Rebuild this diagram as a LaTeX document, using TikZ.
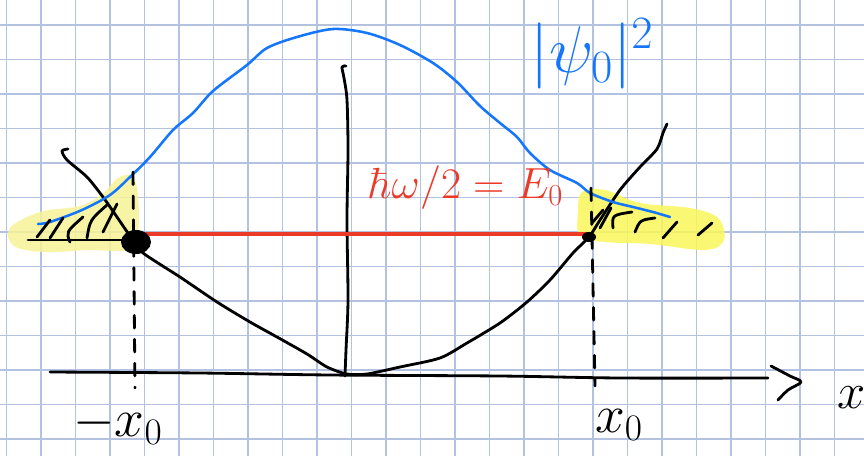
\RequirePackage{fix-cm}
\documentclass[tikz,border=0pt]{standalone}
\usepackage{amsmath}
\usepackage{tikz}
\usetikzlibrary{positioning,calc}
\definecolor{gridblue}{RGB}{178,194,224}
\definecolor{penblue}{RGB}{20,118,250}
\definecolor{penred}{RGB}{236,58,40}
\definecolor{markpale}{RGB}{246,244,150}
\definecolor{markbright}{RGB}{250,246,90}

\begin{document}
\begin{tikzpicture}[x=0.025cm, y=-0.025cm,
        paper/.style={draw=gridblue, line width=0.9pt},
        pen/.style={draw=black, line width=2pt, line cap=round, line join=round},
        wave/.style={draw=penblue, line width=1.8pt, line cap=round},
        level/.style={draw=penred, line width=2.4pt, line cap=round},
        dashpen/.style={pen, dash pattern=on 9pt off 8pt},
        bigtext/.style={font=\fontsize{38}{42}\selectfont, inner sep=0pt}]
    \useasboundingbox (0,0) rectangle (864,456);
    \fill[white] (0,0) rectangle (864,456);
    % squared paper
    \foreach \gx in {6.5,41,...,864} \draw[paper] (\gx,0) -- (\gx,456);
    \foreach \gy in {25,59.5,...,456} \draw[paper] (0,\gy) -- (864,\gy);
    % highlighter marks
    \fill[markpale, opacity=0.85] plot[smooth cycle, tension=0.6] coordinates {
        (10,228) (40,212) (80,206) (102,194) (118,178) (132,176) (138,195)
        (138,232) (128,250) (90,250) (45,252) (14,246)};
    \fill[markbright, opacity=0.85] plot[smooth cycle, tension=0.6] coordinates {
        (578,212) (582,192) (605,190) (640,203) (690,208) (718,218)
        (724,240) (705,250) (650,244) (605,242) (580,236)};
    % turning points
    \coordinate (leftturn) at (136,242);
    \coordinate (rightturn) at (589,237);
    \coordinate (levelleft) at (140,234);
    \coordinate (levelright) at (589,234);
    % axes
    \draw[pen] plot[smooth, tension=0.5] coordinates {
        (50,372) (200,373) (330,375) (500,376) (620,378) (768,378)};
    \draw[pen] plot[smooth, tension=0.5] coordinates {
        (771,366) (790,376) (801,382) (788,390) (778,400)};
    \draw[pen] plot[smooth, tension=0.5] coordinates {
        (346,66) (342,67) (344,78) (347,100) (348,150) (347,220) (348,300) (346,350) (345,376)};
    % potential
    \draw[pen] plot[smooth, tension=0.45] coordinates {
        (68,149) (62,151) (67,160) (87,177) (103,197) (117,217) (128,233) (leftturn)
        (143,253) (180,277) (217,302) (250,322) (277,337) (307,354) (327,367) (347,374)
        (367,374) (400,367) (440,358) (467,343) (500,323) (527,302) (550,280) (573,253)
        (rightturn) (600,220) (620,190) (640,167) (657,149) (663,133) (667,124)};
    % density
    \draw[wave] plot[smooth, tension=0.5] coordinates {
        (38,224) (50,222) (82,210) (110,195) (130,177) (150,157) (173,130)
        (193,113) (213,91) (247,65) (267,48) (297,37) (333,29) (367,33)
        (400,45) (433,63) (457,82) (480,106) (500,123) (517,137) (530,153)
        (550,170) (577,183) (590,193) (613,202) (633,207) (653,212) (670,217)};
    % ground state energy
    \draw[level] (levelleft) -- (levelright);
    \fill (leftturn) ellipse [x radius=15, y radius=12];
    \fill (rightturn) ellipse [x radius=7, y radius=5];
    \draw[dashpen] (133,172) -- (135,388);
    \draw[dashpen] (591,188) -- (595,386);
    % hatching
    \draw[pen] (28,240) -- (125,240);
    \draw[pen] (37,237) -- (50,220);
    \draw[pen] (50,238) -- (63,218);
    \draw[pen] (70,242) .. controls (66,232) .. (83,217);
    \draw[pen] (87,238) .. controls (90,220) .. (107,205);
    \draw[pen] (103,232) -- (117,204);
    \draw[pen] (592,223) -- (603,210);
    \draw[pen] (600,228) -- (611,208);
    \draw[pen] (613,228) .. controls (612,215) .. (632,212);
    \draw[pen] (635,232) .. controls (640,220) .. (655,218);
    \draw[pen] (663,238) -- (677,222);
    \draw[pen] (698,235) -- (712,223);
    % labels
    \node[bigtext, text=penblue, font=\fontsize{47}{50}\selectfont] (psilabel) at (592,54) {$|\psi_0|^2$};
    \node[bigtext, text=penred, font=\fontsize{31}{34}\selectfont] (energylabel) at (466,188) {$\hbar\omega/2=E_0$};
    \node[bigtext, font=\fontsize{36}{40}\selectfont] (xlabel) at (852,398) {$x$};
    \node[bigtext] (leftlabel) at (118,425) {$-x_0$};
    \node[bigtext] (rightlabel) at (619,425) {$x_0$};
\end{tikzpicture}
\end{document}
